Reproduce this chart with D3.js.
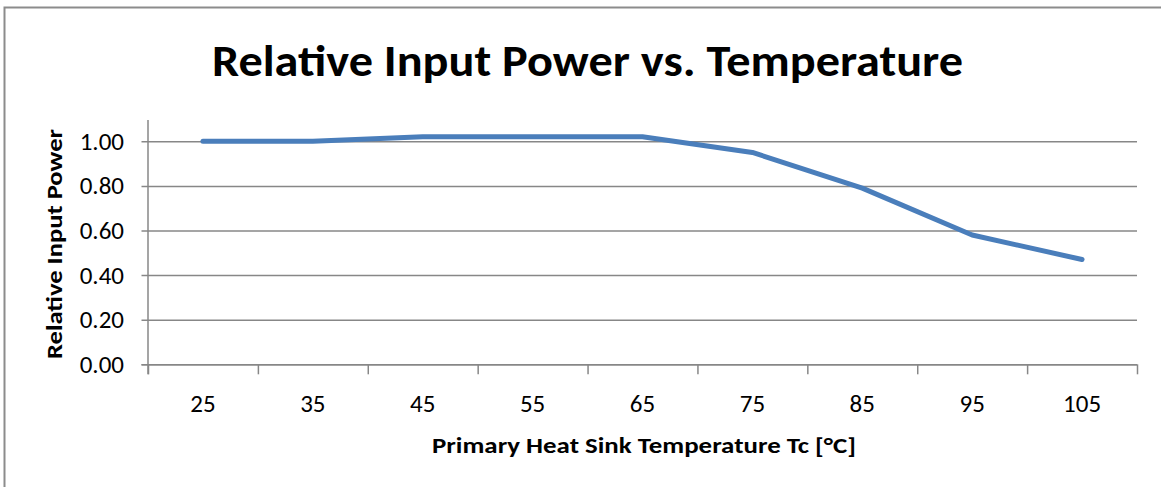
<!DOCTYPE html>
<html>
<head>
<meta charset="utf-8">
<script src="https://cdn.jsdelivr.net/npm/d3@7"></script>
<style>
  body { margin: 0; background: #fff; }
  svg { display: block; }
</style>
</head>
<body>
<div id="wrapper"></div>
<script>
// chart data
const temperatures = ['25', '35', '45', '55', '65', '75', '85', '95', '105']
const relativePower = [1.00, 1.00, 1.02, 1.02, 1.02, 0.95, 0.79, 0.58, 0.47]
const yTicks = [0, 0.2, 0.4, 0.6, 0.8, 1.0]

const titleText = 'Relative Input Power vs. Temperature'
const xTitleText = 'Primary Heat Sink Temperature Tc [°C]'
const yTitleText = 'Relative Input Power'

let dimensions = {
    width: 1161,
    height: 487,
    left: 148,
    right: 1137,
    top: 120,
    bottom: 364.3
}

const font = "Calibri, Carlito, 'Open Sans', sans-serif"
const gridColor = '#878787'

let svg = d3.select('#wrapper')
    .append('svg')
    .attr('width', dimensions.width)
    .attr('height', dimensions.height)

// outer chart border (continues beyond the view)
svg.append('rect')
    .attr('x', 4.5)
    .attr('y', 7.5)
    .attr('width', 1300)
    .attr('height', 700)
    .attr('fill', '#fff')
    .attr('stroke', '#8c8c8c')
    .attr('stroke-width', 2)

let x = d3.scaleBand()
    .domain(temperatures)
    .range([dimensions.left, dimensions.right])

let xEdges = d3.scaleLinear()
    .domain([0, temperatures.length])
    .range([dimensions.left, dimensions.right])

let y = d3.scaleLinear()
    .domain([0, 1.0955])
    .range([dimensions.bottom, dimensions.top])

// gridlines + y ticks
let yAxis = svg.append('g')
    .attr('transform', `translate(${dimensions.left},0)`)
    .call(d3.axisLeft(y)
        .tickValues(yTicks)
        .tickSize(-(dimensions.right - dimensions.left))
        .tickSizeOuter(0)
        .tickPadding(24)
        .tickFormat(d3.format('.2f')))

yAxis.select('.domain').remove()
yAxis.selectAll('.tick line')
    .attr('x1', -6.5)
    .attr('stroke', gridColor)
    .attr('stroke-width', 1.5)
yAxis.selectAll('.tick text')
    .attr('font-family', font)
    .attr('font-size', 25)
    .attr('fill', '#000')

// y axis line
svg.append('line')
    .attr('x1', dimensions.left).attr('x2', dimensions.left)
    .attr('y1', y(1.0955)).attr('y2', dimensions.bottom + 10)
    .attr('stroke', gridColor)
    .attr('stroke-width', 1.5)

// x tick marks at category boundaries
let xTickAxis = svg.append('g')
    .attr('transform', `translate(0,${dimensions.bottom})`)
    .call(d3.axisBottom(xEdges)
        .tickValues(d3.range(temperatures.length + 1))
        .tickSize(10)
        .tickSizeOuter(0)
        .tickFormat(''))
xTickAxis.select('.domain')
    .attr('d', `M${dimensions.left - 6.5},0.5H${dimensions.right}`)
    .attr('stroke', gridColor)
    .attr('stroke-width', 1.5)
xTickAxis.selectAll('.tick line')
    .attr('stroke', gridColor)
    .attr('stroke-width', 1.5)

// x category labels
let xLabels = svg.append('g')
    .attr('transform', `translate(0,${dimensions.bottom})`)
    .call(d3.axisBottom(x).tickSize(0).tickPadding(30))
xLabels.select('.domain').remove()
xLabels.selectAll('.tick text')
    .attr('font-family', font)
    .attr('font-size', 25)
    .attr('fill', '#000')

// the line
let line = d3.line()
    .x((d, i) => x(temperatures[i]) + x.bandwidth() / 2)
    .y(d => y(d))

svg.append('path')
    .datum(relativePower)
    .attr('d', line)
    .attr('fill', 'none')
    .attr('stroke', '#4A7EBB')
    .attr('stroke-width', 5)
    .attr('stroke-linejoin', 'round')
    .attr('stroke-linecap', 'round')

// titles
svg.append('text')
    .attr('x', 587.5)
    .attr('y', 76)
    .attr('text-anchor', 'middle')
    .attr('font-family', font)
    .attr('font-weight', 'bold')
    .attr('font-size', 44)
    .attr('textLength', 751)
    .attr('lengthAdjust', 'spacingAndGlyphs')
    .text(titleText)

svg.append('text')
    .attr('x', 644)
    .attr('y', 452.5)
    .attr('text-anchor', 'middle')
    .attr('font-family', font)
    .attr('font-weight', 'bold')
    .attr('font-size', 23)
    .attr('textLength', 424)
    .attr('lengthAdjust', 'spacingAndGlyphs')
    .text(xTitleText)

svg.append('text')
    .attr('transform', 'translate(61.5,244) rotate(-90)')
    .attr('text-anchor', 'middle')
    .attr('font-family', font)
    .attr('font-weight', 'bold')
    .attr('font-size', 23)
    .attr('textLength', 230)
    .attr('lengthAdjust', 'spacingAndGlyphs')
    .text(yTitleText)
</script>
</body>
</html>
